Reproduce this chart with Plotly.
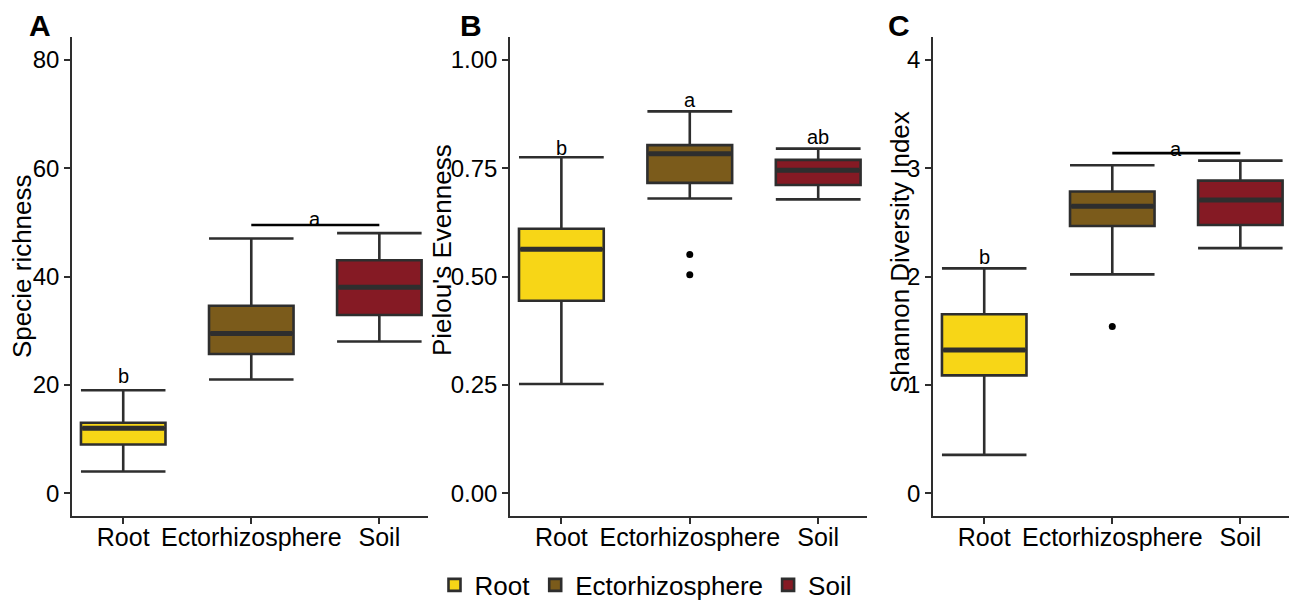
import plotly.graph_objects as go

# ---------------- data ----------------
groups = ["Root", "Ectorhizosphere", "Soil"]
positions = [1, 2, 3]
colors = ["#F7D617", "#7B5B1B", "#851A24"]

richness_lower = [4, 21, 28]
richness_q1 = [9, 25.7, 32.9]
richness_median = [12, 29.5, 38]
richness_q3 = [13, 34.6, 43]
richness_upper = [19, 47, 48]
richness_outliers = [[], [], []]

evenness_lower = [0.252, 0.680, 0.678]
evenness_q1 = [0.444, 0.716, 0.711]
evenness_median = [0.563, 0.783, 0.745]
evenness_q3 = [0.610, 0.803, 0.769]
evenness_upper = [0.775, 0.881, 0.795]
evenness_outliers = [[], [0.551, 0.504], []]

shannon_lower = [0.354, 2.02, 2.262]
shannon_q1 = [1.088, 2.466, 2.475]
shannon_median = [1.321, 2.649, 2.705]
shannon_q3 = [1.652, 2.784, 2.885]
shannon_upper = [2.075, 3.026, 3.069]
shannon_outliers = [[], [1.538], []]

panel_titles = ["Specie richness", "Pielou's Evenness", "Shannon Diversity Index"]
panel_letters = ["A", "B", "C"]
y_ticks = [[0, 20, 40, 60, 80], [0, 0.25, 0.5, 0.75, 1.0], [0, 1, 2, 3, 4]]
y_ticktext = [["0", "20", "40", "60", "80"],
              ["0.00", "0.25", "0.50", "0.75", "1.00"],
              ["0", "1", "2", "3", "4"]]
y_ranges = [[-4.2, 84.2], [-0.0525, 1.0525], [-0.21, 4.21]]

# significance letters: (group position, y, text)
sig_letters = [
    [(1, 21.6, "b"), (2.5, 50.7, "a")],
    [(1, 0.797, "b"), (2, 0.908, "a"), (3, 0.822, "ab")],
    [(1, 2.18, "b"), (2.5, 3.18, "a")],
]
# brackets: (from position, to position, y)
brackets = [[(2, 3, 49.5)], [], [(2, 3, 3.138)]]

panels = [
    (richness_lower, richness_q1, richness_median, richness_q3, richness_upper, richness_outliers),
    (evenness_lower, evenness_q1, evenness_median, evenness_q3, evenness_upper, evenness_outliers),
    (shannon_lower, shannon_q1, shannon_median, shannon_q3, shannon_upper, shannon_outliers),
]

# ---------------- layout geometry ----------------
W, H = 1291, 601
x_domains_px = [(72, 428), (510, 867), (933, 1289)]
y_top_px, y_bot_px = 37, 516
x_range = [0.6, 3.38]
box_w = 0.66
line_col = "#2E2E2E"
FONT = "Liberation Sans, Arial, sans-serif"

fig = go.Figure()

for p, (lo, q1, med, q3, up, outs) in enumerate(panels):
    xa = "x" if p == 0 else f"x{p+1}"
    ya = "y" if p == 0 else f"y{p+1}"
    for i, g in enumerate(groups):
        fig.add_trace(go.Box(
            x=[positions[i]], q1=[q1[i]], median=[med[i]], q3=[q3[i]],
            lowerfence=[lo[i]], upperfence=[up[i]],
            width=box_w, whiskerwidth=1,
            fillcolor=colors[i], line=dict(color=line_col, width=2.6),
            boxpoints=False, name=g, legendgroup=g, showlegend=(p == 0),
            xaxis=xa, yaxis=ya, hoverinfo="skip",
        ))
        # thicker median line
        fig.add_trace(go.Scatter(
            x=[positions[i] - box_w / 2 + 0.01, positions[i] + box_w / 2 - 0.01],
            y=[med[i], med[i]], mode="lines",
            line=dict(color=line_col, width=5),
            showlegend=False, xaxis=xa, yaxis=ya, hoverinfo="skip",
        ))
        if outs[i]:
            fig.add_trace(go.Scatter(
                x=[positions[i]] * len(outs[i]), y=outs[i], mode="markers",
                marker=dict(color="black", size=7),
                showlegend=False, xaxis=xa, yaxis=ya, hoverinfo="skip",
            ))
    for (x0, x1, yb) in brackets[p]:
        fig.add_trace(go.Scatter(
            x=[x0, x1], y=[yb, yb], mode="lines",
            line=dict(color="black", width=2.6),
            showlegend=False, xaxis=xa, yaxis=ya, hoverinfo="skip",
        ))
    for (xp, yp, t) in sig_letters[p]:
        fig.add_annotation(x=xp, y=yp, text=t, xref=xa, yref=ya,
                           showarrow=False, yanchor="middle",
                           font=dict(size=20, color="black", family=FONT))

layout = {}
for p in range(3):
    xk = "xaxis" if p == 0 else f"xaxis{p+1}"
    yk = "yaxis" if p == 0 else f"yaxis{p+1}"
    x0, x1 = x_domains_px[p]
    layout[xk] = dict(
        domain=[x0 / W, x1 / W], range=x_range,
        anchor="y" if p == 0 else f"y{p+1}",
        tickvals=positions, ticktext=groups, tickangle=0,
        showline=True, linecolor=line_col, linewidth=1.6,
        ticks="outside", ticklen=6, tickwidth=1.6, tickcolor=line_col,
        ticklabelstandoff=-8,
        showgrid=False, zeroline=False, automargin=False,
        tickfont=dict(size=25, color="black", family=FONT),
    )
    layout[yk] = dict(
        domain=[1 - y_bot_px / H, 1 - y_top_px / H], range=y_ranges[p],
        anchor="x" if p == 0 else f"x{p+1}",
        tickvals=y_ticks[p], ticktext=y_ticktext[p],
        showline=True, linecolor=line_col, linewidth=1.6,
        ticks="outside", ticklen=6, tickwidth=1.6, tickcolor=line_col,
        showgrid=False, zeroline=False, automargin=False,
        tickfont=dict(size=24, color="black", family=FONT),
    )

fig.update_layout(**layout)

# axis titles and panel letters
title_pos = [(22, 266), (442, 250), (900, 252)]
letter_pos = [(40, 26), (471, 26), (899, 26)]
for p in range(3):
    tx, ty = title_pos[p]
    fig.add_annotation(x=tx / W, y=1 - ty / H, xref="paper", yref="paper",
                       text=panel_titles[p], textangle=-90, showarrow=False,
                       xanchor="center", yanchor="middle",
                       font=dict(size=26, color="black", family=FONT))
    lx, ly = letter_pos[p]
    fig.add_annotation(x=lx / W, y=1 - ly / H, xref="paper", yref="paper",
                       text=f"<b>{panel_letters[p]}</b>", showarrow=False,
                       xanchor="center", yanchor="middle",
                       font=dict(size=30, color="black", family=FONT))

fig.update_layout(
    width=W, height=H,
    margin=dict(l=0, r=0, t=0, b=0, autoexpand=False),
    paper_bgcolor="white", plot_bgcolor="white",
    boxmode="overlay",
    showlegend=True,
    legend=dict(orientation="h", x=0.5, xanchor="center",
                y=1 - 585 / H, yanchor="middle",
                font=dict(size=26, color="black", family=FONT),
                itemwidth=30, tracegroupgap=20),
)

fig.write_html("out.html")
